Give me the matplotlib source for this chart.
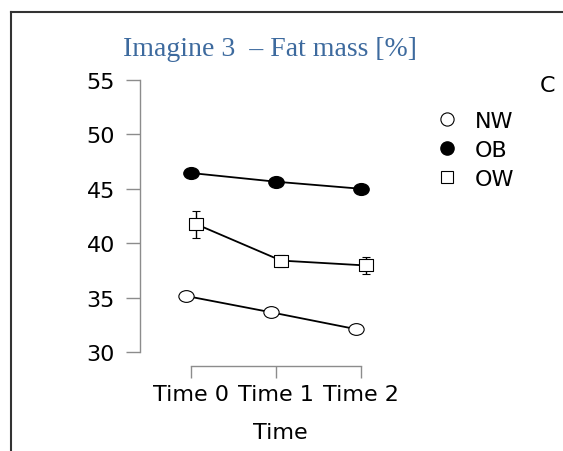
import matplotlib.pyplot as plt
from matplotlib.lines import Line2D
from matplotlib.path import Path
from matplotlib.transforms import Affine2D

# values
times = ["Time 0", "Time 1", "Time 2"]
nw_mean = [35.15, 33.65, 32.1]
nw_err = [0.2, 0.2, 0.2]
ob_mean = [46.45, 45.65, 45.0]
ob_err = [0.25, 0.25, 0.25]
ow_mean = [41.75, 38.4, 37.95]
ow_err = [1.25, 0.55, 0.8]

W, H = 563, 452
fig = plt.figure(figsize=(W / 100, H / 100), dpi=100)

# the original picture is a bit stretched sideways, so the markers are too
ellipse = Affine2D().scale(1.3, 1.0).transform_path(Path.unit_circle())
rect = Affine2D().translate(-0.5, -0.5).scale(1.25, 1.0).transform_path(Path.unit_rectangle())

# axes placed in pixel terms
left, right, top, bottom = 140, 420, 70, 367
ax = fig.add_axes([left / W, (H - bottom) / H, (right - left) / W, (bottom - top) / H])

xs = list(range(len(times)))
off = 0.06
grey = "#8c8c8c"
font = "DejaVu Sans"

ax.errorbar([x - off for x in xs], nw_mean, yerr=nw_err, color="black", lw=1.3,
            marker=ellipse, ms=11, mfc="white", mec="black", mew=0.8, capsize=3, elinewidth=1)
ax.errorbar(xs, ob_mean, yerr=ob_err, color="black", lw=1.3,
            marker=ellipse, ms=11, mfc="black", mec="black", capsize=3, elinewidth=1)
ax.errorbar([x + off for x in xs], ow_mean, yerr=ow_err, color="black", lw=1.3,
            marker=rect, ms=10.5, mfc="white", mec="black", mew=0.8, capsize=3, elinewidth=1)

ax.set_xlim(-0.6, 2.694)
ax.set_ylim(28.71, 56.01)
ax.set_yticks([30, 35, 40, 45, 50, 55])
ax.set_xticks(xs)
ax.set_xticklabels(times)

for s in ["top", "right"]:
    ax.spines[s].set_visible(False)
ax.spines["left"].set_bounds(30, 55)
ax.spines["bottom"].set_bounds(0, 2)
for s in ["left", "bottom"]:
    ax.spines[s].set_color(grey)
    ax.spines[s].set_linewidth(1)

ax.tick_params(axis="y", length=10, width=1, color=grey, labelsize=16, pad=8)
ax.tick_params(axis="x", length=8.5, width=1, color=grey, labelsize=16, pad=4.5)
for lab in ax.get_xticklabels() + ax.get_yticklabels():
    lab.set_fontfamily(font)

ax.set_xlabel("Time", fontsize=16, family=font, labelpad=13)

handles = [
    Line2D([], [], ls="none", marker="o", ms=9.5, mfc="white", mec="black", mew=0.8),
    Line2D([], [], ls="none", marker="o", ms=9.5, mfc="black", mec="black"),
    Line2D([], [], ls="none", marker="s", ms=8.5, mfc="white", mec="black", mew=0.8),
]
fig.legend(handles, ["NW", "OB", "OW"], loc="upper left",
           bbox_to_anchor=(425 / W, 1 - 101 / H), frameon=False,
           prop={"family": font, "size": 16},
           handlelength=1.0, handletextpad=0.75, labelspacing=0.4, borderpad=0)

# clipped legend title
fig.text(540 / W, 1 - 86 / H, "C", fontsize=16, family=font, va="center")

fig.text(270 / W, 1 - 50 / H, "Imagine 3  \u2013 Fat mass [%]", fontsize=20,
         family="Liberation Serif", color="#3d6a9e", ha="center", va="center")

# page frame lines
fig.add_artist(Line2D([11 / W, 11 / W], [0, 1 - 13 / H], color="#333333", lw=1.5))
fig.add_artist(Line2D([11 / W, 1], [1 - 13 / H, 1 - 13 / H], color="#333333", lw=1.5))

fig.savefig("out.png", dpi=100)
